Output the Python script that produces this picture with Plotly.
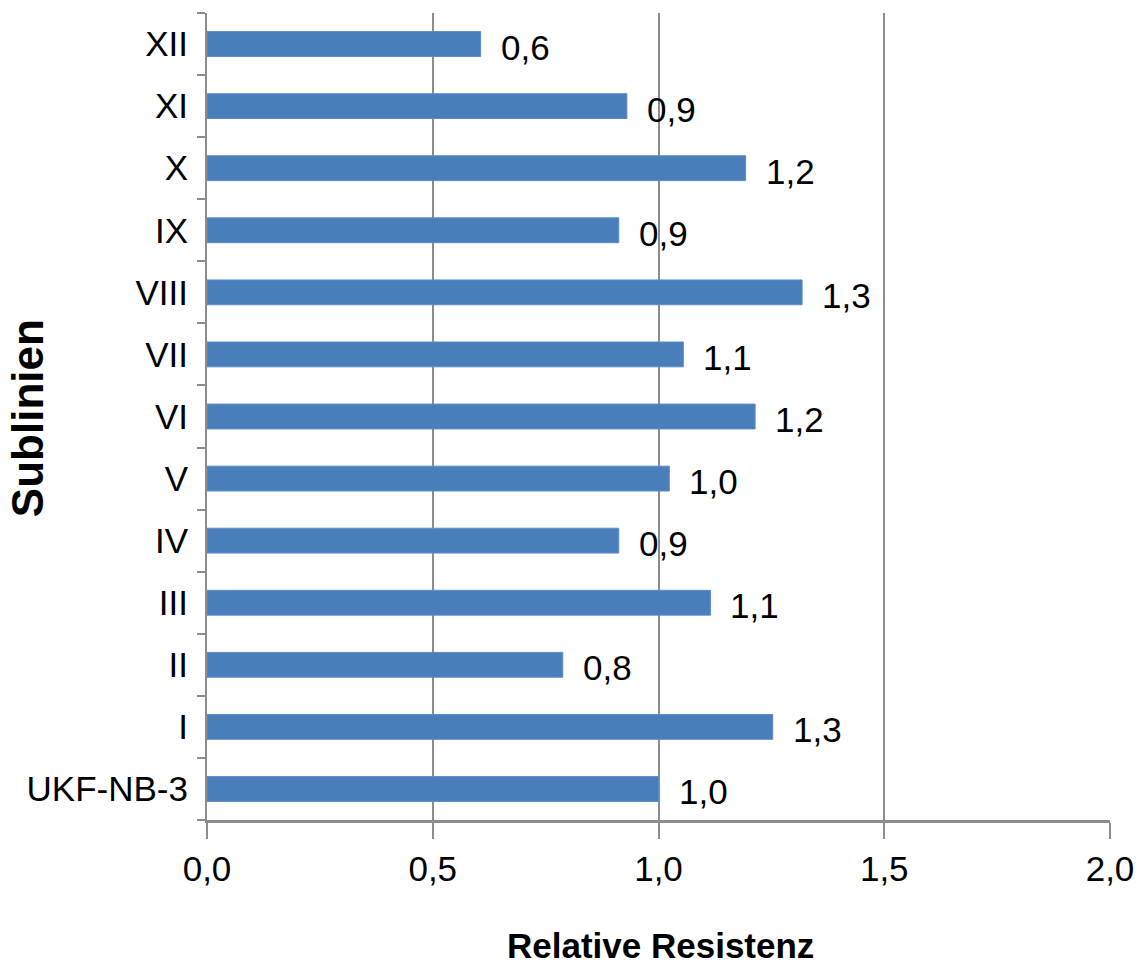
import plotly.graph_objects as go

# Sublines (bottom to top) and their relative resistance
sublines = ["UKF-NB-3", "I", "II", "III", "IV", "V", "VI", "VII",
            "VIII", "IX", "X", "XI", "XII"]
resistance = [1.00, 1.253, 0.788, 1.115, 0.912, 1.024, 1.214, 1.055,
              1.318, 0.912, 1.193, 0.930, 0.606]

x_ticks = [0.0, 0.5, 1.0, 1.5, 2.0]

BAR = "#4a7ebb"
GRID = "#8c8c8c"
FONT = "Liberation Sans, Arial, sans-serif"
TXT = 35

fig = go.Figure(
    go.Bar(
        x=resistance,
        y=sublines,
        orientation="h",
        marker=dict(color=BAR, line=dict(color="#5b8ccc", width=1)),
        width=0.4,
        hoverinfo="x+y",
    )
)

# value labels to the right of each bar, one decimal with comma
for sub, val in zip(sublines, resistance):
    fig.add_annotation(
        x=val, y=sub, xref="x", yref="y",
        text=f"{val:.1f}".replace(".", ","),
        showarrow=False, xanchor="left", yanchor="middle",
        xshift=18, yshift=-3,
        font=dict(family=FONT, size=TXT, color="#000000"),
    )

# axis titles
fig.add_annotation(
    text="<b>Relative Resistenz</b>", xref="paper", yref="paper",
    x=0.502, y=-0.156, xanchor="center", yanchor="middle", showarrow=False,
    font=dict(family=FONT, size=35, color="#000000"),
)
fig.add_annotation(
    text="<b>Sublinien</b>", xref="paper", yref="paper",
    x=-0.1993, y=0.498, xanchor="center", yanchor="middle", showarrow=False,
    textangle=-90,
    font=dict(family=FONT, size=44, color="#000000"),
)

fig.update_layout(
    width=1144, height=970,
    margin=dict(l=207, r=34, t=13, b=150),
    paper_bgcolor="white", plot_bgcolor="white",
    separators=",.",
    showlegend=False,
    bargap=0.6,
)

fig.update_xaxes(
    range=[0, 2.0], tickvals=x_ticks, tickformat=".1f",
    automargin=False,
    showgrid=True, gridcolor=GRID, gridwidth=1.5,
    showline=True, linecolor=GRID, linewidth=3,
    ticks="outside", ticklen=16, tickcolor=GRID, tickwidth=1.5,
    zeroline=False,
    tickfont=dict(family=FONT, size=TXT, color="#000000"),
)

fig.update_yaxes(
    type="category", categoryorder="array", categoryarray=sublines,
    tickson="boundaries",
    automargin=False,
    showgrid=False,
    showline=True, linecolor=GRID, linewidth=2,
    ticks="outside", ticklen=8, tickcolor=GRID, tickwidth=1.5,
    ticklabelstandoff=10,
    tickfont=dict(family=FONT, size=TXT, color="#000000"),
)

fig.write_html("out.html")
